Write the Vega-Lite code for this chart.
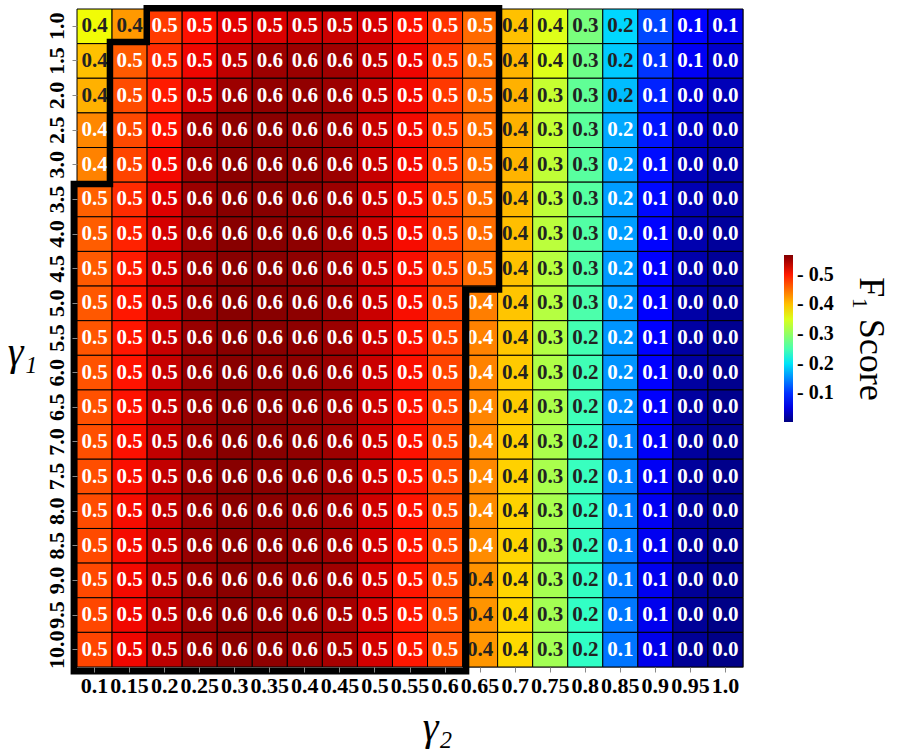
{
"$schema": "https://vega.github.io/schema/vega-lite/v6.json",
"width": 666, "height": 658,
"autosize": {"type": "none"},
"padding": {"left": 77, "top": 9, "right": 159, "bottom": 84},
"background": "white",
"config": {"view": {"stroke": "#9a9a9a", "strokeWidth": 1}, "font": "Liberation Serif"},
"layer": [
{
"data": {"values": [
{"g1":"1.0","g2":"0.1","f1":0.365},{"g1":"1.0","g2":"0.15","f1":0.424},{"g1":"1.0","g2":"0.2","f1":0.48},{"g1":"1.0","g2":"0.25","f1":0.505},{"g1":"1.0","g2":"0.3","f1":0.518},{"g1":"1.0","g2":"0.35","f1":0.522},{"g1":"1.0","g2":"0.4","f1":0.528},{"g1":"1.0","g2":"0.45","f1":0.53},{"g1":"1.0","g2":"0.5","f1":0.524},{"g1":"1.0","g2":"0.55","f1":0.505},{"g1":"1.0","g2":"0.6","f1":0.485},{"g1":"1.0","g2":"0.65","f1":0.452},{"g1":"1.0","g2":"0.7","f1":0.4},{"g1":"1.0","g2":"0.75","f1":0.352},{"g1":"1.0","g2":"0.8","f1":0.283},{"g1":"1.0","g2":"0.85","f1":0.192},{"g1":"1.0","g2":"0.9","f1":0.112},{"g1":"1.0","g2":"0.95","f1":0.075},{"g1":"1.0","g2":"1.0","f1":0.054},
{"g1":"1.5","g2":"0.1","f1":0.4},{"g1":"1.5","g2":"0.15","f1":0.462},{"g1":"1.5","g2":"0.2","f1":0.49},{"g1":"1.5","g2":"0.25","f1":0.512},{"g1":"1.5","g2":"0.3","f1":0.535},{"g1":"1.5","g2":"0.35","f1":0.552},{"g1":"1.5","g2":"0.4","f1":0.553},{"g1":"1.5","g2":"0.45","f1":0.551},{"g1":"1.5","g2":"0.5","f1":0.535},{"g1":"1.5","g2":"0.55","f1":0.513},{"g1":"1.5","g2":"0.6","f1":0.483},{"g1":"1.5","g2":"0.65","f1":0.452},{"g1":"1.5","g2":"0.7","f1":0.408},{"g1":"1.5","g2":"0.75","f1":0.352},{"g1":"1.5","g2":"0.8","f1":0.275},{"g1":"1.5","g2":"0.85","f1":0.185},{"g1":"1.5","g2":"0.9","f1":0.102},{"g1":"1.5","g2":"0.95","f1":0.06},{"g1":"1.5","g2":"1.0","f1":0.04},
{"g1":"2.0","g2":"0.1","f1":0.41},{"g1":"2.0","g2":"0.15","f1":0.47},{"g1":"2.0","g2":"0.2","f1":0.5},{"g1":"2.0","g2":"0.25","f1":0.525},{"g1":"2.0","g2":"0.3","f1":0.552},{"g1":"2.0","g2":"0.35","f1":0.557},{"g1":"2.0","g2":"0.4","f1":0.557},{"g1":"2.0","g2":"0.45","f1":0.552},{"g1":"2.0","g2":"0.5","f1":0.534},{"g1":"2.0","g2":"0.55","f1":0.51},{"g1":"2.0","g2":"0.6","f1":0.482},{"g1":"2.0","g2":"0.65","f1":0.452},{"g1":"2.0","g2":"0.7","f1":0.41},{"g1":"2.0","g2":"0.75","f1":0.336},{"g1":"2.0","g2":"0.8","f1":0.266},{"g1":"2.0","g2":"0.85","f1":0.178},{"g1":"2.0","g2":"0.9","f1":0.092},{"g1":"2.0","g2":"0.95","f1":0.042},{"g1":"2.0","g2":"1.0","f1":0.03},
{"g1":"2.5","g2":"0.1","f1":0.435},{"g1":"2.5","g2":"0.15","f1":0.472},{"g1":"2.5","g2":"0.2","f1":0.505},{"g1":"2.5","g2":"0.25","f1":0.551},{"g1":"2.5","g2":"0.3","f1":0.56},{"g1":"2.5","g2":"0.35","f1":0.561},{"g1":"2.5","g2":"0.4","f1":0.558},{"g1":"2.5","g2":"0.45","f1":0.553},{"g1":"2.5","g2":"0.5","f1":0.532},{"g1":"2.5","g2":"0.55","f1":0.51},{"g1":"2.5","g2":"0.6","f1":0.48},{"g1":"2.5","g2":"0.65","f1":0.452},{"g1":"2.5","g2":"0.7","f1":0.41},{"g1":"2.5","g2":"0.75","f1":0.334},{"g1":"2.5","g2":"0.8","f1":0.262},{"g1":"2.5","g2":"0.85","f1":0.166},{"g1":"2.5","g2":"0.9","f1":0.085},{"g1":"2.5","g2":"0.95","f1":0.035},{"g1":"2.5","g2":"1.0","f1":0.025},
{"g1":"3.0","g2":"0.1","f1":0.438},{"g1":"3.0","g2":"0.15","f1":0.475},{"g1":"3.0","g2":"0.2","f1":0.51},{"g1":"3.0","g2":"0.25","f1":0.552},{"g1":"3.0","g2":"0.3","f1":0.561},{"g1":"3.0","g2":"0.35","f1":0.562},{"g1":"3.0","g2":"0.4","f1":0.559},{"g1":"3.0","g2":"0.45","f1":0.553},{"g1":"3.0","g2":"0.5","f1":0.532},{"g1":"3.0","g2":"0.55","f1":0.51},{"g1":"3.0","g2":"0.6","f1":0.48},{"g1":"3.0","g2":"0.65","f1":0.451},{"g1":"3.0","g2":"0.7","f1":0.408},{"g1":"3.0","g2":"0.75","f1":0.332},{"g1":"3.0","g2":"0.8","f1":0.26},{"g1":"3.0","g2":"0.85","f1":0.162},{"g1":"3.0","g2":"0.9","f1":0.08},{"g1":"3.0","g2":"0.95","f1":0.03},{"g1":"3.0","g2":"1.0","f1":0.02},
{"g1":"3.5","g2":"0.1","f1":0.458},{"g1":"3.5","g2":"0.15","f1":0.49},{"g1":"3.5","g2":"0.2","f1":0.52},{"g1":"3.5","g2":"0.25","f1":0.553},{"g1":"3.5","g2":"0.3","f1":0.562},{"g1":"3.5","g2":"0.35","f1":0.562},{"g1":"3.5","g2":"0.4","f1":0.559},{"g1":"3.5","g2":"0.45","f1":0.553},{"g1":"3.5","g2":"0.5","f1":0.532},{"g1":"3.5","g2":"0.55","f1":0.508},{"g1":"3.5","g2":"0.6","f1":0.478},{"g1":"3.5","g2":"0.65","f1":0.451},{"g1":"3.5","g2":"0.7","f1":0.405},{"g1":"3.5","g2":"0.75","f1":0.33},{"g1":"3.5","g2":"0.8","f1":0.258},{"g1":"3.5","g2":"0.85","f1":0.16},{"g1":"3.5","g2":"0.9","f1":0.078},{"g1":"3.5","g2":"0.95","f1":0.028},{"g1":"3.5","g2":"1.0","f1":0.018},
{"g1":"4.0","g2":"0.1","f1":0.46},{"g1":"4.0","g2":"0.15","f1":0.495},{"g1":"4.0","g2":"0.2","f1":0.525},{"g1":"4.0","g2":"0.25","f1":0.553},{"g1":"4.0","g2":"0.3","f1":0.562},{"g1":"4.0","g2":"0.35","f1":0.562},{"g1":"4.0","g2":"0.4","f1":0.559},{"g1":"4.0","g2":"0.45","f1":0.553},{"g1":"4.0","g2":"0.5","f1":0.531},{"g1":"4.0","g2":"0.55","f1":0.508},{"g1":"4.0","g2":"0.6","f1":0.477},{"g1":"4.0","g2":"0.65","f1":0.451},{"g1":"4.0","g2":"0.7","f1":0.402},{"g1":"4.0","g2":"0.75","f1":0.328},{"g1":"4.0","g2":"0.8","f1":0.256},{"g1":"4.0","g2":"0.85","f1":0.16},{"g1":"4.0","g2":"0.9","f1":0.075},{"g1":"4.0","g2":"0.95","f1":0.026},{"g1":"4.0","g2":"1.0","f1":0.016},
{"g1":"4.5","g2":"0.1","f1":0.462},{"g1":"4.5","g2":"0.15","f1":0.5},{"g1":"4.5","g2":"0.2","f1":0.528},{"g1":"4.5","g2":"0.25","f1":0.554},{"g1":"4.5","g2":"0.3","f1":0.562},{"g1":"4.5","g2":"0.35","f1":0.562},{"g1":"4.5","g2":"0.4","f1":0.559},{"g1":"4.5","g2":"0.45","f1":0.553},{"g1":"4.5","g2":"0.5","f1":0.531},{"g1":"4.5","g2":"0.55","f1":0.507},{"g1":"4.5","g2":"0.6","f1":0.476},{"g1":"4.5","g2":"0.65","f1":0.451},{"g1":"4.5","g2":"0.7","f1":0.4},{"g1":"4.5","g2":"0.75","f1":0.326},{"g1":"4.5","g2":"0.8","f1":0.254},{"g1":"4.5","g2":"0.85","f1":0.158},{"g1":"4.5","g2":"0.9","f1":0.072},{"g1":"4.5","g2":"0.95","f1":0.024},{"g1":"4.5","g2":"1.0","f1":0.014},
{"g1":"5.0","g2":"0.1","f1":0.463},{"g1":"5.0","g2":"0.15","f1":0.502},{"g1":"5.0","g2":"0.2","f1":0.53},{"g1":"5.0","g2":"0.25","f1":0.554},{"g1":"5.0","g2":"0.3","f1":0.562},{"g1":"5.0","g2":"0.35","f1":0.562},{"g1":"5.0","g2":"0.4","f1":0.559},{"g1":"5.0","g2":"0.45","f1":0.553},{"g1":"5.0","g2":"0.5","f1":0.53},{"g1":"5.0","g2":"0.55","f1":0.507},{"g1":"5.0","g2":"0.6","f1":0.475},{"g1":"5.0","g2":"0.65","f1":0.44},{"g1":"5.0","g2":"0.7","f1":0.398},{"g1":"5.0","g2":"0.75","f1":0.324},{"g1":"5.0","g2":"0.8","f1":0.252},{"g1":"5.0","g2":"0.85","f1":0.157},{"g1":"5.0","g2":"0.9","f1":0.07},{"g1":"5.0","g2":"0.95","f1":0.022},{"g1":"5.0","g2":"1.0","f1":0.012},
{"g1":"5.5","g2":"0.1","f1":0.465},{"g1":"5.5","g2":"0.15","f1":0.503},{"g1":"5.5","g2":"0.2","f1":0.531},{"g1":"5.5","g2":"0.25","f1":0.554},{"g1":"5.5","g2":"0.3","f1":0.562},{"g1":"5.5","g2":"0.35","f1":0.562},{"g1":"5.5","g2":"0.4","f1":0.559},{"g1":"5.5","g2":"0.45","f1":0.553},{"g1":"5.5","g2":"0.5","f1":0.53},{"g1":"5.5","g2":"0.55","f1":0.506},{"g1":"5.5","g2":"0.6","f1":0.475},{"g1":"5.5","g2":"0.65","f1":0.438},{"g1":"5.5","g2":"0.7","f1":0.396},{"g1":"5.5","g2":"0.75","f1":0.322},{"g1":"5.5","g2":"0.8","f1":0.246},{"g1":"5.5","g2":"0.85","f1":0.156},{"g1":"5.5","g2":"0.9","f1":0.068},{"g1":"5.5","g2":"0.95","f1":0.02},{"g1":"5.5","g2":"1.0","f1":0.011},
{"g1":"6.0","g2":"0.1","f1":0.466},{"g1":"6.0","g2":"0.15","f1":0.504},{"g1":"6.0","g2":"0.2","f1":0.532},{"g1":"6.0","g2":"0.25","f1":0.555},{"g1":"6.0","g2":"0.3","f1":0.562},{"g1":"6.0","g2":"0.35","f1":0.562},{"g1":"6.0","g2":"0.4","f1":0.559},{"g1":"6.0","g2":"0.45","f1":0.553},{"g1":"6.0","g2":"0.5","f1":0.53},{"g1":"6.0","g2":"0.55","f1":0.506},{"g1":"6.0","g2":"0.6","f1":0.474},{"g1":"6.0","g2":"0.65","f1":0.437},{"g1":"6.0","g2":"0.7","f1":0.395},{"g1":"6.0","g2":"0.75","f1":0.32},{"g1":"6.0","g2":"0.8","f1":0.244},{"g1":"6.0","g2":"0.85","f1":0.155},{"g1":"6.0","g2":"0.9","f1":0.066},{"g1":"6.0","g2":"0.95","f1":0.019},{"g1":"6.0","g2":"1.0","f1":0.01},
{"g1":"6.5","g2":"0.1","f1":0.467},{"g1":"6.5","g2":"0.15","f1":0.505},{"g1":"6.5","g2":"0.2","f1":0.533},{"g1":"6.5","g2":"0.25","f1":0.555},{"g1":"6.5","g2":"0.3","f1":0.562},{"g1":"6.5","g2":"0.35","f1":0.562},{"g1":"6.5","g2":"0.4","f1":0.558},{"g1":"6.5","g2":"0.45","f1":0.552},{"g1":"6.5","g2":"0.5","f1":0.529},{"g1":"6.5","g2":"0.55","f1":0.505},{"g1":"6.5","g2":"0.6","f1":0.474},{"g1":"6.5","g2":"0.65","f1":0.436},{"g1":"6.5","g2":"0.7","f1":0.394},{"g1":"6.5","g2":"0.75","f1":0.318},{"g1":"6.5","g2":"0.8","f1":0.242},{"g1":"6.5","g2":"0.85","f1":0.152},{"g1":"6.5","g2":"0.9","f1":0.064},{"g1":"6.5","g2":"0.95","f1":0.018},{"g1":"6.5","g2":"1.0","f1":0.009},
{"g1":"7.0","g2":"0.1","f1":0.468},{"g1":"7.0","g2":"0.15","f1":0.506},{"g1":"7.0","g2":"0.2","f1":0.534},{"g1":"7.0","g2":"0.25","f1":0.555},{"g1":"7.0","g2":"0.3","f1":0.562},{"g1":"7.0","g2":"0.35","f1":0.562},{"g1":"7.0","g2":"0.4","f1":0.558},{"g1":"7.0","g2":"0.45","f1":0.552},{"g1":"7.0","g2":"0.5","f1":0.529},{"g1":"7.0","g2":"0.55","f1":0.505},{"g1":"7.0","g2":"0.6","f1":0.473},{"g1":"7.0","g2":"0.65","f1":0.435},{"g1":"7.0","g2":"0.7","f1":0.392},{"g1":"7.0","g2":"0.75","f1":0.317},{"g1":"7.0","g2":"0.8","f1":0.24},{"g1":"7.0","g2":"0.85","f1":0.146},{"g1":"7.0","g2":"0.9","f1":0.062},{"g1":"7.0","g2":"0.95","f1":0.017},{"g1":"7.0","g2":"1.0","f1":0.009},
{"g1":"7.5","g2":"0.1","f1":0.469},{"g1":"7.5","g2":"0.15","f1":0.507},{"g1":"7.5","g2":"0.2","f1":0.534},{"g1":"7.5","g2":"0.25","f1":0.555},{"g1":"7.5","g2":"0.3","f1":0.562},{"g1":"7.5","g2":"0.35","f1":0.561},{"g1":"7.5","g2":"0.4","f1":0.558},{"g1":"7.5","g2":"0.45","f1":0.552},{"g1":"7.5","g2":"0.5","f1":0.528},{"g1":"7.5","g2":"0.55","f1":0.504},{"g1":"7.5","g2":"0.6","f1":0.472},{"g1":"7.5","g2":"0.65","f1":0.434},{"g1":"7.5","g2":"0.7","f1":0.391},{"g1":"7.5","g2":"0.75","f1":0.316},{"g1":"7.5","g2":"0.8","f1":0.238},{"g1":"7.5","g2":"0.85","f1":0.144},{"g1":"7.5","g2":"0.9","f1":0.06},{"g1":"7.5","g2":"0.95","f1":0.016},{"g1":"7.5","g2":"1.0","f1":0.008},
{"g1":"8.0","g2":"0.1","f1":0.47},{"g1":"8.0","g2":"0.15","f1":0.508},{"g1":"8.0","g2":"0.2","f1":0.535},{"g1":"8.0","g2":"0.25","f1":0.555},{"g1":"8.0","g2":"0.3","f1":0.562},{"g1":"8.0","g2":"0.35","f1":0.561},{"g1":"8.0","g2":"0.4","f1":0.557},{"g1":"8.0","g2":"0.45","f1":0.551},{"g1":"8.0","g2":"0.5","f1":0.528},{"g1":"8.0","g2":"0.55","f1":0.504},{"g1":"8.0","g2":"0.6","f1":0.472},{"g1":"8.0","g2":"0.65","f1":0.433},{"g1":"8.0","g2":"0.7","f1":0.39},{"g1":"8.0","g2":"0.75","f1":0.315},{"g1":"8.0","g2":"0.8","f1":0.237},{"g1":"8.0","g2":"0.85","f1":0.142},{"g1":"8.0","g2":"0.9","f1":0.059},{"g1":"8.0","g2":"0.95","f1":0.015},{"g1":"8.0","g2":"1.0","f1":0.008},
{"g1":"8.5","g2":"0.1","f1":0.471},{"g1":"8.5","g2":"0.15","f1":0.509},{"g1":"8.5","g2":"0.2","f1":0.535},{"g1":"8.5","g2":"0.25","f1":0.555},{"g1":"8.5","g2":"0.3","f1":0.561},{"g1":"8.5","g2":"0.35","f1":0.561},{"g1":"8.5","g2":"0.4","f1":0.557},{"g1":"8.5","g2":"0.45","f1":0.551},{"g1":"8.5","g2":"0.5","f1":0.527},{"g1":"8.5","g2":"0.55","f1":0.503},{"g1":"8.5","g2":"0.6","f1":0.471},{"g1":"8.5","g2":"0.65","f1":0.432},{"g1":"8.5","g2":"0.7","f1":0.389},{"g1":"8.5","g2":"0.75","f1":0.314},{"g1":"8.5","g2":"0.8","f1":0.236},{"g1":"8.5","g2":"0.85","f1":0.141},{"g1":"8.5","g2":"0.9","f1":0.058},{"g1":"8.5","g2":"0.95","f1":0.015},{"g1":"8.5","g2":"1.0","f1":0.007},
{"g1":"9.0","g2":"0.1","f1":0.472},{"g1":"9.0","g2":"0.15","f1":0.51},{"g1":"9.0","g2":"0.2","f1":0.536},{"g1":"9.0","g2":"0.25","f1":0.555},{"g1":"9.0","g2":"0.3","f1":0.561},{"g1":"9.0","g2":"0.35","f1":0.56},{"g1":"9.0","g2":"0.4","f1":0.556},{"g1":"9.0","g2":"0.45","f1":0.551},{"g1":"9.0","g2":"0.5","f1":0.527},{"g1":"9.0","g2":"0.55","f1":0.503},{"g1":"9.0","g2":"0.6","f1":0.47},{"g1":"9.0","g2":"0.65","f1":0.428},{"g1":"9.0","g2":"0.7","f1":0.388},{"g1":"9.0","g2":"0.75","f1":0.313},{"g1":"9.0","g2":"0.8","f1":0.235},{"g1":"9.0","g2":"0.85","f1":0.14},{"g1":"9.0","g2":"0.9","f1":0.057},{"g1":"9.0","g2":"0.95","f1":0.014},{"g1":"9.0","g2":"1.0","f1":0.007},
{"g1":"9.5","g2":"0.1","f1":0.473},{"g1":"9.5","g2":"0.15","f1":0.511},{"g1":"9.5","g2":"0.2","f1":0.536},{"g1":"9.5","g2":"0.25","f1":0.555},{"g1":"9.5","g2":"0.3","f1":0.561},{"g1":"9.5","g2":"0.35","f1":0.56},{"g1":"9.5","g2":"0.4","f1":0.555},{"g1":"9.5","g2":"0.45","f1":0.548},{"g1":"9.5","g2":"0.5","f1":0.526},{"g1":"9.5","g2":"0.55","f1":0.502},{"g1":"9.5","g2":"0.6","f1":0.469},{"g1":"9.5","g2":"0.65","f1":0.427},{"g1":"9.5","g2":"0.7","f1":0.387},{"g1":"9.5","g2":"0.75","f1":0.312},{"g1":"9.5","g2":"0.8","f1":0.234},{"g1":"9.5","g2":"0.85","f1":0.139},{"g1":"9.5","g2":"0.9","f1":0.056},{"g1":"9.5","g2":"0.95","f1":0.014},{"g1":"9.5","g2":"1.0","f1":0.006},
{"g1":"10.0","g2":"0.1","f1":0.474},{"g1":"10.0","g2":"0.15","f1":0.512},{"g1":"10.0","g2":"0.2","f1":0.537},{"g1":"10.0","g2":"0.25","f1":0.555},{"g1":"10.0","g2":"0.3","f1":0.561},{"g1":"10.0","g2":"0.35","f1":0.559},{"g1":"10.0","g2":"0.4","f1":0.554},{"g1":"10.0","g2":"0.45","f1":0.547},{"g1":"10.0","g2":"0.5","f1":0.526},{"g1":"10.0","g2":"0.55","f1":0.502},{"g1":"10.0","g2":"0.6","f1":0.469},{"g1":"10.0","g2":"0.65","f1":0.426},{"g1":"10.0","g2":"0.7","f1":0.386},{"g1":"10.0","g2":"0.75","f1":0.311},{"g1":"10.0","g2":"0.8","f1":0.233},{"g1":"10.0","g2":"0.85","f1":0.138},{"g1":"10.0","g2":"0.9","f1":0.055},{"g1":"10.0","g2":"0.95","f1":0.013},{"g1":"10.0","g2":"1.0","f1":0.006}
]},
"encoding": {
"x": {"field": "g2", "type": "ordinal",
"sort": ["0.1","0.15","0.2","0.25","0.3","0.35","0.4","0.45","0.5","0.55","0.6","0.65","0.7","0.75","0.8","0.85","0.9","0.95","1.0"],
"scale": {"paddingInner": 0, "paddingOuter": 0},
"axis": {"title": "γ₂", "labelAngle": 0, "labelFont": "Liberation Serif", "labelFontWeight": "bold", "labelFontSize": 22, "labelColor": "#000000", "labelPadding": 3, "labelOverlap": false, "labelBound": false, "tickSize": 5, "tickColor": "#888888", "domain": false,
"titleFont": "Liberation Serif", "titleFontSize": 40, "titleFontStyle": "italic", "titleFontWeight": "normal", "titleColor": "#000000", "titleX": 360, "titleY": 60, "titleAlign": "center", "titleBaseline": "middle"}},
"y": {"field": "g1", "type": "ordinal",
"sort": ["1.0","1.5","2.0","2.5","3.0","3.5","4.0","4.5","5.0","5.5","6.0","6.5","7.0","7.5","8.0","8.5","9.0","9.5","10.0"],
"scale": {"paddingInner": 0, "paddingOuter": 0},
"axis": {"title": "γ₁", "labelAngle": -90, "labelAlign": "center", "labelBaseline": "alphabetic", "labelFont": "Liberation Serif", "labelFontWeight": "bold", "labelFontSize": 22, "labelColor": "#000000", "labelPadding": 9, "labelOverlap": false, "labelBound": false, "tickSize": 5, "tickColor": "#888888", "domain": false,
"titleFont": "Liberation Serif", "titleFontSize": 40, "titleFontStyle": "italic", "titleFontWeight": "normal", "titleColor": "#000000", "titleAngle": 0, "titleX": -55, "titleY": 343, "titleAlign": "center", "titleBaseline": "middle"}}
},
"layer": [
{"mark": {"type": "rect", "stroke": "#000000", "strokeWidth": 1},
"encoding": {
"color": {"field": "f1", "type": "quantitative",
"scale": {"domain": [0.003, 0.0649, 0.0734, 0.1944, 0.2001, 0.2141, 0.3633, 0.369, 0.3746, 0.5041, 0.5153, 0.566],
"range": ["#000080", "#0000ff", "#0000ff", "#00dbff", "#00e5f7", "#15ffe2", "#eeff08", "#f7f500", "#ffec00", "#ff1300", "#e80000", "#800000"],
"interpolate": "rgb", "clamp": true},
"legend": {"orient": "none", "legendX": 707, "legendY": 246, "direction": "vertical", "gradientLength": 167, "gradientThickness": 9, "gradientStrokeWidth": 0,
"values": [0.1, 0.2, 0.3, 0.4, 0.5], "labelExpr": "'- ' + format(datum.value, '.1f')", "labelOverlap": false,
"labelFont": "Liberation Serif", "labelFontWeight": "bold", "labelFontSize": 20, "labelColor": "#000000", "labelOffset": 4,
"title": "F₁ Score", "titleOrient": "right", "titleAnchor": "middle", "titleFont": "Liberation Serif", "titleFontSize": 36, "titleFontWeight": "normal", "titleColor": "#000000", "titlePadding": 18}}
}},
{"mark": {"type": "text", "font": "Liberation Serif", "fontWeight": "bold", "fontSize": 21, "baseline": "middle", "align": "center"},
"encoding": {
"text": {"field": "f1", "type": "quantitative", "format": ".1f"},
"color": {"condition": {"test": "datum.f1 >= 0.17 && datum.f1 < 0.43", "value": "#222222"}, "value": "#ffffff"}
}}
]
},
{
"data": {"values": [
{"i": 0, "cx": 1.99, "ry": -0.02},
{"i": 1, "cx": 12.04, "ry": -0.02},
{"i": 2, "cx": 12.04, "ry": 8.1},
{"i": 3, "cx": 11.1, "ry": 8.1},
{"i": 4, "cx": 11.1, "ry": 19.12},
{"i": 5, "cx": -0.09, "ry": 19.12},
{"i": 6, "cx": -0.09, "ry": 5.05},
{"i": 7, "cx": 0.94, "ry": 5.05},
{"i": 8, "cx": 0.94, "ry": 0.95},
{"i": 9, "cx": 1.99, "ry": 0.95},
{"i": 10, "cx": 1.99, "ry": -0.02}
]},
"mark": {"type": "line", "color": "#000000", "strokeWidth": 6.5, "strokeCap": "square", "strokeJoin": "miter", "clip": false},
"encoding": {
"x": {"field": "cx", "type": "quantitative", "scale": {"domain": [0, 19], "nice": false, "zero": false}, "axis": null},
"y": {"field": "ry", "type": "quantitative", "scale": {"domain": [0, 19], "nice": false, "zero": false, "reverse": true}, "axis": null},
"order": {"field": "i", "type": "quantitative"}
}
}
],
"resolve": {"scale": {"x": "independent", "y": "independent"}}
}
